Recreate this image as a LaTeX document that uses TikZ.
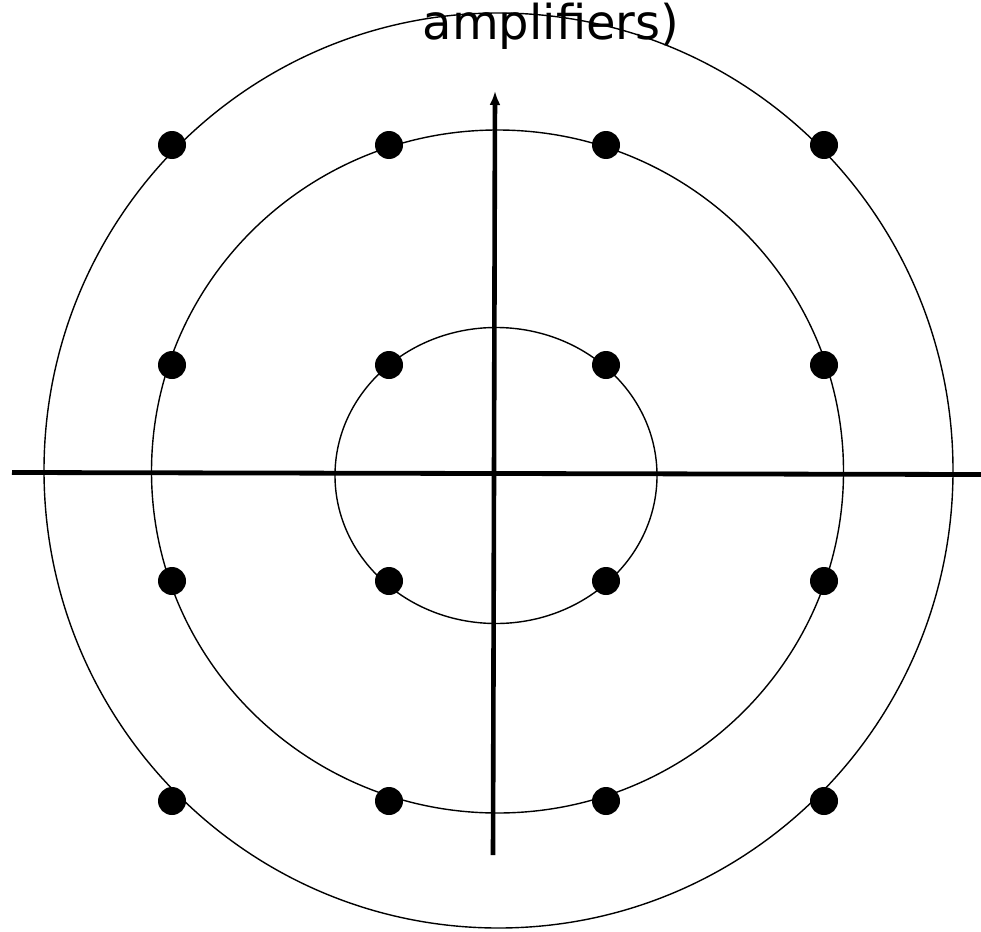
\documentclass[tikz,border=0pt]{standalone}
\usepackage{fontspec}
\setmainfont{DejaVu Sans}
\usetikzlibrary{arrows.meta}
\begin{document}
\begin{tikzpicture}[x=1pt,y=-1pt,
  ring/.style={line width=1.4pt},
  axis/.style={line width=4.8pt},
  dot/.style={circle,fill=black,inner sep=0pt,minimum width=28pt,minimum height=27pt}]
\useasboundingbox (0,0) rectangle (981,931);
% rings
\draw[ring] (498.5,470.5) ellipse [x radius=454.5, y radius=457.5];
\draw[ring] (497.5,471.5) ellipse [x radius=346, y radius=341.5];
\draw[ring] (496,475.5) ellipse [x radius=161, y radius=148];
% axes
\coordinate (xl) at (12,472.5);
\coordinate (xr) at (981,474.5);
\coordinate (yb) at (493,855);
\coordinate (yt) at (495,91);
\draw[axis] (xl) -- (xr);
\draw[line width=4.6pt,-{Latex[length=14pt,width=11pt]}] (yb) -- (yt);
% title
\node[anchor=base,font=\fontsize{48}{56}\selectfont,inner sep=0pt] (title) at (551,40) {amplifiers)};
% dots
\foreach \c/\x in {1/172,2/389,3/606,4/824}{
  \foreach \r/\y in {1/145,2/365,3/581,4/801}{
    \node[dot] (d\r\c) at (\x,\y) {};
  }
}
\end{tikzpicture}
\end{document}
